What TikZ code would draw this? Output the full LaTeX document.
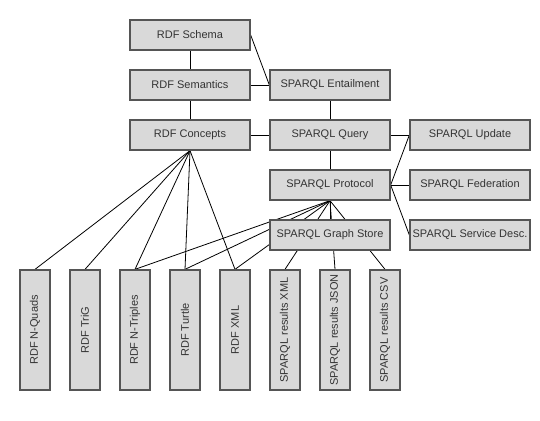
\documentclass[tikz,border=0pt]{standalone}
\usepackage{fontspec}
\setmainfont{Liberation Sans}
\usepackage{graphicx}
\pgfdeclarelayer{background}
\pgfsetlayers{background,main}
\definecolor{boxfill}{HTML}{D9D9D9}
\definecolor{boxline}{HTML}{555555}
\definecolor{txt}{HTML}{333333}
\begin{document}
\begin{tikzpicture}[x=1pt,y=-1pt,
  hbox/.style={draw=boxline,fill=boxfill,line width=1.3pt,minimum width=120pt,minimum height=30pt,inner sep=0pt,text=txt,font=\fontsize{11pt}{13pt}\selectfont},
  vbox/.style={draw=boxline,fill=boxfill,line width=1.3pt,minimum width=30pt,minimum height=120pt,inner sep=0pt,text=txt,font=\fontsize{11pt}{13pt}\selectfont},
  conn/.style={draw=black,line width=0.8pt}]
\useasboundingbox (0,0) rectangle (540,420);
\node[hbox] (schema) at (190,35) {RDF Schema};
\node[hbox] (semantics) at (190,85) {RDF Semantics};
\node[hbox] (concepts) at (190,135) {RDF Concepts};
\node[hbox] (entail) at (330,85) {SPARQL Entailment};
\node[hbox] (query) at (330,135) {SPARQL Query};
\node[hbox] (protocol) at (330,185) {SPARQL Protocol};
\node[hbox] (graphstore) at (330,235) {SPARQL Graph Store};
\node[hbox] (update) at (470,135) {SPARQL Update};
\node[hbox] (federation) at (470,185) {SPARQL Federation};
\node[hbox] (servdesc) at (470,235) {SPARQL Service Desc.};
\node[vbox] (nquads) at (35,330) {\rotatebox{90}{RDF N-Quads}};
\node[vbox] (trig) at (85,330) {\rotatebox{90}{RDF TriG}};
\node[vbox] (ntriples) at (135,330) {\rotatebox{90}{RDF N-Triples}};
\node[vbox] (turtle) at (185,330) {\rotatebox{90}{RDF Turtle}};
\node[vbox] (rdfxml) at (235,330) {\rotatebox{90}{RDF XML}};
\node[vbox] (resxml) at (285,330) {\rotatebox{90}{SPARQL results XML}};
\node[vbox] (resjson) at (335,330) {\rotatebox{90}{SPARQL results JSON}};
\node[vbox] (rescsv) at (385,330) {\rotatebox{90}{SPARQL results CSV}};
\begin{pgfonlayer}{background}
\draw[conn] (schema.south) -- (semantics.north);
\draw[conn] (semantics.south) -- (concepts.north);
\draw[conn] (schema.east) -- (entail.west);
\draw[conn] (semantics.east) -- (entail.west);
\draw[conn] (entail.south) -- (query.north);
\draw[conn] (concepts.east) -- (query.west);
\draw[conn] (query.south) -- (protocol.north);
\draw[conn] (query.east) -- (update.west);
\draw[conn] (protocol.east) -- (update.west);
\draw[conn] (protocol.east) -- (federation.west);
\draw[conn] (protocol.east) -- (servdesc.west);
\foreach \t in {nquads,trig,ntriples,turtle,rdfxml}
  \draw[conn] (concepts.south) -- (\t.north);
\foreach \t in {graphstore,ntriples,turtle,rdfxml,resxml,resjson,rescsv}
  \draw[conn] (protocol.south) -- (\t.north);
\end{pgfonlayer}
\end{tikzpicture}
\end{document}
